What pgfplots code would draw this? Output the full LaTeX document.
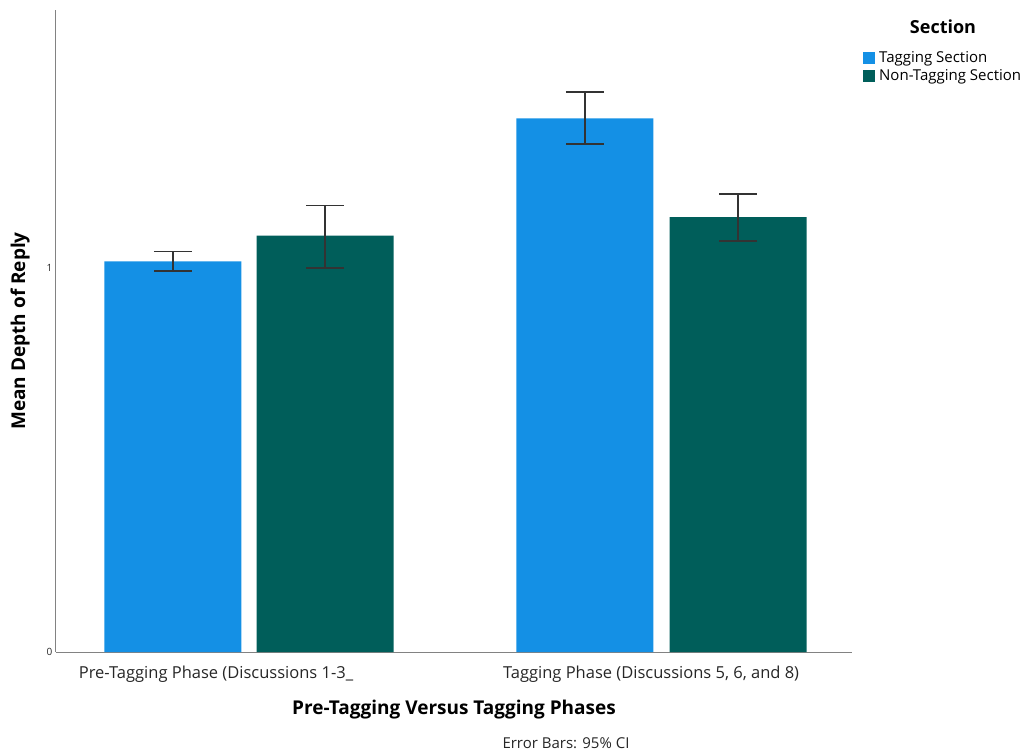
\documentclass[border=0pt]{standalone}
\usepackage{pgfplots}
\pgfplotsset{compat=1.18}
\usepackage{fontspec}
\setmainfont{Open Sans}
\definecolor{tagblue}{RGB}{20,144,229}
\definecolor{nonteal}{RGB}{0,94,90}
\definecolor{axgray}{RGB}{130,130,130}
\begin{document}
\begin{tikzpicture}
\path[use as bounding box] (-56pt,-101pt) rectangle (973pt,652pt);
\begin{axis}[
  at={(0pt,0pt)}, anchor=south west,
  scale only axis, width=796pt, height=642pt,
  xmin=-0.4684, xmax=1.4636, ymin=0, ymax=1.672,
  axis lines=left,
  axis line style={draw=axgray, line width=1pt, -},
  major tick length=0pt,
  ytick={0,1}, yticklabels={0,1},
  yticklabel style={font=\fontsize{10}{12}\selectfont, text=black!85},
  xtick={-0.080,0.976},
  xticklabels={Pre-Tagging Phase (Discussions 1-3\_, {Tagging Phase (Discussions 5, 6, and 8)}},
  xticklabel style={font=\fontsize{16.5}{20}\selectfont, text=black!85, yshift=-10pt},
  xlabel={Pre-Tagging Versus Tagging Phases},
  ylabel={Mean Depth of Reply},
  every axis x label/.style={at={(axis description cs:0.5,-0.089)}, anchor=center, font=\bfseries\fontsize{19}{21}\selectfont},
  every axis y label/.style={at={(axis description cs:-0.045,0.5)}, rotate=90, anchor=center, font=\bfseries\fontsize{19}{21}\selectfont},
  ybar, bar width=0.3325, bar shift=0pt,
  error bars/y dir=both, error bars/y explicit,
  error bars/error bar style={line width=1.6pt, black!80},
  error bars/error mark options={line width=1.6pt, black!80, mark size=19pt, rotate=90},
  legend style={at={(axis description cs:1.0138,0.939)}, anchor=north west, draw=none, fill=none,
    font=\fontsize{15}{17}\selectfont, row sep=2pt, inner sep=0pt, cells={anchor=west}},
  legend image code/.code={\fill[#1] (0pt,-6pt) rectangle (12pt,6pt);},
]
\addplot[fill=tagblue, draw=none] table[x=x, y=y, y error plus=ep, y error minus=em] {
x y ep em
-0.185 1.0174 0.0261 0.0252
0.815 1.3898 0.0693 0.0669
};
\addlegendentry{\hspace{2pt}Tagging Section}
\addplot[fill=nonteal, draw=none] table[x=x, y=y, y error plus=ep, y error minus=em] {
x y ep em
0.185 1.0841 0.0792 0.0833
1.187 1.1328 0.0599 0.0617
};
\addlegendentry{\hspace{2pt}Non-Tagging Section}
\end{axis}
\node[font=\bfseries\fontsize{18}{20}\selectfont] at (887pt,625pt) {Section};
\node[font=\fontsize{15}{17}\selectfont, text=black!85] at (510pt,-91pt) {Error Bars: 95\% CI};
\end{tikzpicture}
\end{document}
